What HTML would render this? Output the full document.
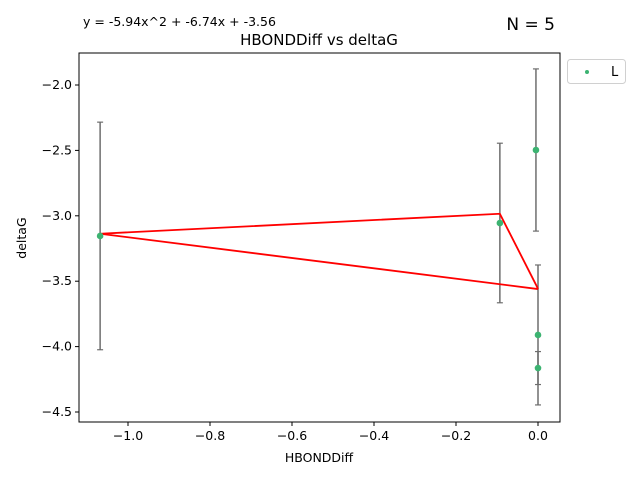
<!DOCTYPE html>
<html><head><meta charset="utf-8"><style>
body{margin:0;background:#fff;font-family:"DejaVu Sans","Liberation Sans",sans-serif;}
svg text{font-family:"DejaVu Sans","Liberation Sans",sans-serif;}
</style></head><body>
<svg id="chart" width="640" height="480" xmlns="http://www.w3.org/2000/svg">
<rect width="640" height="480" fill="#fff"/>
<g id="plot"></g>
</svg>
<script>
const xVals=[0.0,-1.068,-0.093,-0.005,0.0];
const yVals=[-3.911,-3.154,-3.055,-2.497,-4.164];
const yErr=[0.535,0.87,0.61,0.62,0.126];
const coef=[-5.94,-6.74,-3.56];
const xTicks=[-1.0,-0.8,-0.6,-0.4,-0.2,0.0];
const yTicks=[-2.0,-2.5,-3.0,-3.5,-4.0,-4.5];
const L=79,R=560,T=53,B=422;
const sx=v=>538+v*410;
const sy=v=>85+(-2.0-v)*130.8;
const NS='http://www.w3.org/2000/svg';
const g=document.getElementById('plot');
function mk(t,a,txt){const e=document.createElementNS(NS,t);for(const k in a)e.setAttribute(k,a[k]);if(txt!==undefined)e.textContent=txt;g.appendChild(e);return e;}
const fmt=v=>(v<0?'\u2212':'')+Math.abs(v).toFixed(1);
xVals.forEach((x,i)=>{
 const X=sx(x),y1=sy(yVals[i]+yErr[i]),y2=sy(yVals[i]-yErr[i]);
 let e=mk('line',{x1:X,x2:X,y1:y1,y2:y2,stroke:'#6e6e6e','stroke-width':1.5});
 
 
 [y1,y2].forEach(yy=>{let c=mk('line',{x1:X-3,x2:X+3,y1:yy,y2:yy,stroke:'#6e6e6e','stroke-width':1.2});
 
 });
});
const pts=xVals.map(x=>sx(x)+','+sy(coef[0]*x*x+coef[1]*x+coef[2])).join(' ');
let fl=mk('polyline',{points:pts,fill:'none',stroke:'#ff0000','stroke-width':1.8});


xVals.forEach((x,i)=>{let c=mk('circle',{cx:sx(x),cy:sy(yVals[i]),r:3.3,fill:'#3cb371'});

});
let fr=mk('rect',{x:L,y:T,width:R-L,height:B-T,fill:'none',stroke:'#000','stroke-width':1});


xTicks.forEach(v=>{const X=sx(v);mk('line',{x1:X,x2:X,y1:B,y2:B+4,stroke:'#000'});
let t=mk('text',{x:X,y:B+18,'font-size':12.5,'text-anchor':'middle'},fmt(v));

});
yTicks.forEach(v=>{const Y=sy(v);mk('line',{x1:L-4,x2:L,y1:Y,y2:Y,stroke:'#000'});
let t=mk('text',{x:L-7,y:Y+4,'font-size':12.5,'text-anchor':'end'},fmt(v));

});
let a=mk('text',{x:319,y:462,'font-size':12.5,'text-anchor':'middle'},'HBONDDiff');

a=mk('text',{x:26,y:238,'font-size':12.5,'text-anchor':'middle',transform:'rotate(-90 26 238)'},'deltaG');

a=mk('text',{x:319,y:45,'font-size':15,'text-anchor':'middle'},'HBONDDiff vs deltaG');

a=mk('text',{x:83,y:26,'font-size':12.5},'y = -5.94x^2 + -6.74x + -3.56');

a=mk('text',{x:555,y:30,'font-size':17,'text-anchor':'end'},'N = 5');

a=mk('rect',{x:567.5,y:59.5,width:58,height:24,rx:3,fill:'#fff',stroke:'#d0d0d0'});

mk('circle',{cx:587,cy:72,r:2,fill:'#3cb371'});
a=mk('text',{x:611,y:76,'font-size':13},'L');

</script>
</body></html>
